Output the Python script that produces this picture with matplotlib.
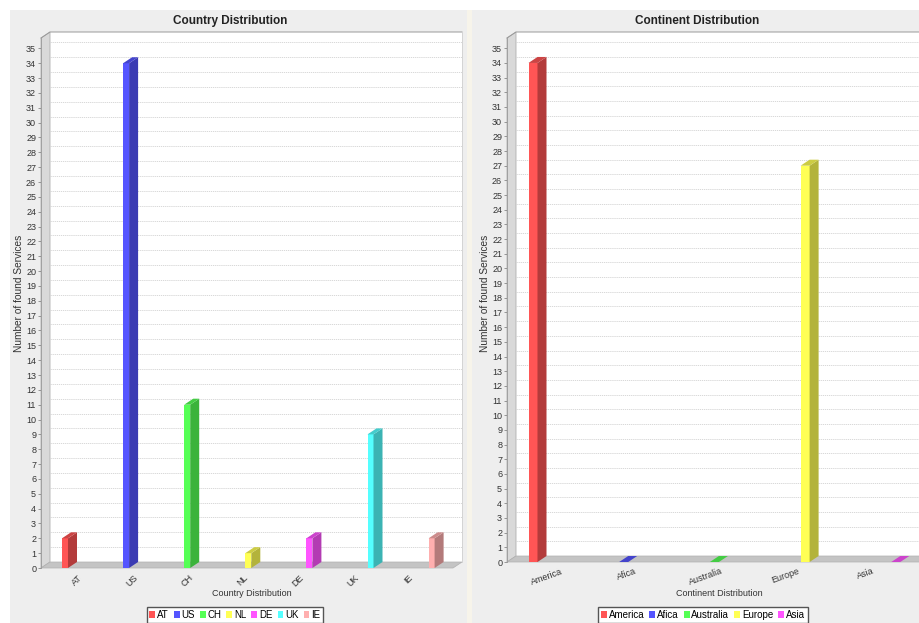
import matplotlib
matplotlib.use("Agg")
import matplotlib.pyplot as plt
from matplotlib.patches import Polygon, Rectangle, Patch
from matplotlib.lines import Line2D
import numpy as np

# ---- data ----
countries = ["AT", "US", "CH", "NL", "DE", "UK", "IE"]
country_counts = [2, 34, 11, 1, 2, 9, 2]
continents = ["America", "Afica", "Australia", "Europe", "Asia"]
continent_counts = [34, 0, 0, 27, 0]
y_ticks = list(range(0, 36))

series_colors = ["#ff5555", "#5555ff", "#55ff55", "#ffff55",
                 "#ff55ff", "#55ffff", "#ffafaf"]

W, H = 919, 623
plt.rcParams["font.family"] = ["Liberation Sans", "DejaVu Sans"]
fig = plt.figure(figsize=(W / 100, H / 100), dpi=100, facecolor="white")

PANEL = "#eeeeee"
DX, DY = 9, 6          # 3D depth offset in pixels
YMAX = 35.7


def px_rect(x0, y0, x1, y1):
    return [x0 / W, 1 - y1 / H, (x1 - x0) / W, (y1 - y0) / H]


def shade(c, f):
    r, g, b = matplotlib.colors.to_rgb(c)
    return (r * f, g * f, b * f)


# panel backgrounds
bg = fig.add_axes([0, 0, 1, 1], zorder=-10)
bg.set_xlim(0, W)
bg.set_ylim(H, 0)
bg.axis("off")
bg.add_patch(Rectangle((10, 10), 457, H, color=PANEL, lw=0))
bg.add_patch(Rectangle((467, 10), 5, H, color="#f7f4ea", lw=0))
bg.add_patch(Rectangle((472, 10), W - 472, H, color=PANEL, lw=0))


def draw_panel(left_px, right_px, zero_px, top_px, first_px, step_px, bar_px,
               lab_first_px, lab_step_px, cats, vals, rot, title, title_x,
               xlabel, xlabel_x, ylabel_x, legend_x):
    ax = fig.add_axes(px_rect(left_px, top_px, right_px, zero_px))
    xmin = (left_px - first_px) / step_px
    xmax = (right_px - first_px) / step_px
    ax.set_xlim(xmin, xmax)
    ax.set_ylim(0, YMAX)
    ax.set_facecolor("none")
    ddx = DX / step_px
    ddy = DY * YMAX / (zero_px - top_px)

    # back wall, side wall and floor
    ax.add_patch(Polygon([(xmin + ddx, ddy), (xmax + ddx, ddy),
                          (xmax + ddx, YMAX + ddy), (xmin + ddx, YMAX + ddy)],
                         closed=True, fc="white", ec="none", clip_on=False, zorder=0))
    ax.add_patch(Polygon([(xmin, 0), (xmin + ddx, ddy), (xmin + ddx, YMAX + ddy),
                          (xmin, YMAX)], closed=True, fc="#d9d9d9", ec="#b0b0b0",
                         lw=0.6, clip_on=False, zorder=1))
    ax.add_patch(Polygon([(xmin, 0), (xmax, 0), (xmax + ddx, ddy), (xmin + ddx, ddy)],
                         closed=True, fc="#c4c4c4", ec="#b0b0b0", lw=0.5,
                         clip_on=False, zorder=1))
    # outline of back wall
    ax.plot([xmin, xmin + ddx, xmax + ddx], [YMAX, YMAX + ddy, YMAX + ddy],
            color="#999999", lw=0.7, clip_on=False, zorder=2)
    ax.plot([xmax + ddx, xmax + ddx], [ddy, YMAX + ddy], color="#d0d0d0",
            lw=0.6, clip_on=False, zorder=2)

    # gridlines on the back wall
    for v in y_ticks[1:]:
        ax.add_line(Line2D([xmin + ddx, xmax + ddx], [v + ddy, v + ddy],
                           color="#d2d2d2", lw=0.6, ls=(0, (1.5, 1.0)),
                           clip_on=False, zorder=1.5))

    # bars
    xs = np.arange(len(cats))
    bw = bar_px / step_px
    cols = series_colors[:len(cats)]
    ax.bar(xs, vals, width=bw, color=cols, zorder=4, lw=0)
    for x, v, c in zip(xs, vals, cols):
        x0, x1 = x - bw / 2, x + bw / 2
        ax.add_patch(Polygon([(x1, 0), (x1 + ddx, ddy), (x1 + ddx, v + ddy), (x1, v)],
                             closed=True, fc=shade(c, 0.7), ec="none",
                             clip_on=False, zorder=4))
        ax.add_patch(Polygon([(x0, v), (x1, v), (x1 + ddx, v + ddy), (x0 + ddx, v + ddy)],
                             closed=True, fc=shade(c, 0.8), ec="none",
                             clip_on=False, zorder=4))

    # axes
    for s in ["top", "right", "bottom"]:
        ax.spines[s].set_visible(False)
    ax.spines["left"].set_color("#a0a0a0")
    ax.spines["left"].set_linewidth(0.7)
    ax.set_yticks(y_ticks)
    ax.tick_params(axis="y", labelsize=6.5, labelcolor="#333333", length=2.5,
                   width=0.6, color="#888888", pad=1)
    lab_pos = [(lab_first_px + lab_step_px * i - first_px) / step_px
               for i in range(len(cats))]
    ax.set_xticks(lab_pos)
    ax.set_xticklabels(cats, rotation=rot, ha="center", va="top",
                       fontsize=6.5, color="#333333")
    ax.tick_params(axis="x", length=0, pad=3.5)

    fig.text(title_x / W, 1 - 21 / H, title, ha="center", va="center",
             fontsize=8.5, fontweight="bold", color="#222222")
    fig.text(xlabel_x / W, 1 - 593 / H, xlabel, ha="center", va="center",
             fontsize=6.5, color="#333333")
    fig.text(ylabel_x / W, 1 - 293 / H, "Number of found Services", ha="center",
             va="center", rotation=90, fontsize=7.3, color="#333333")

    handles = [Patch(fc=c, ec="none") for c in cols]
    fig.legend(handles, cats, ncol=len(cats), loc="upper center",
               bbox_to_anchor=(legend_x / W, 1 - 607 / H),
               bbox_transform=fig.transFigure, frameon=True, fancybox=False,
               edgecolor="#555555", facecolor="white", framealpha=1,
               fontsize=7, handlelength=0.6, handleheight=0.6,
               handletextpad=0.2, columnspacing=0.5, borderpad=0.3,
               borderaxespad=0)
    return ax


draw_panel(41, 453, 568, 38, 65, 61.1, 6, 77, 55.2, countries, country_counts,
           45, "Country Distribution", 230, "Country Distribution", 252, 19, 235)
draw_panel(507, 922, 562, 38, 533, 90.7, 9, 547, 79.5, continents,
           continent_counts, 20, "Continent Distribution", 697,
           "Continent Distribution", 719, 485, 703)

fig.savefig("out.png", dpi=100)
